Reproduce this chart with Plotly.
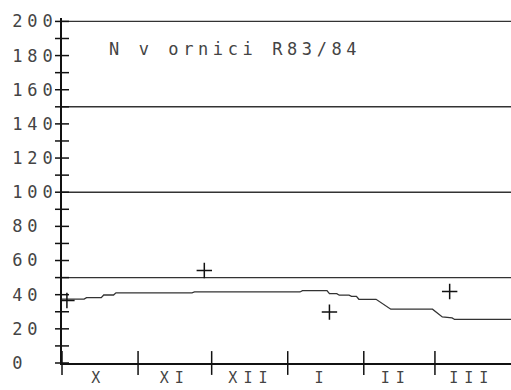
import plotly.graph_objects as go

# ---- data ----
line_dates = ["1983-10-01", "1983-10-10", "1983-10-11", "1983-10-17", "1983-10-18",
              "1983-10-22", "1983-10-23", "1983-11-23", "1983-11-24", "1984-01-06",
              "1984-01-07", "1984-01-17", "1984-01-18", "1984-01-21", "1984-01-22",
              "1984-01-26", "1984-01-27", "1984-01-29", "1984-01-30", "1984-02-06",
              "1984-02-12", "1984-02-29", "1984-03-04", "1984-03-08", "1984-03-09",
              "1984-04-01"]
line_values = [37.4, 37.4, 38.3, 38.3, 39.8, 39.8, 41.1, 41.1, 41.6, 41.6,
               42.4, 42.4, 40.6, 40.6, 39.7, 39.7, 39.0, 39.0, 37.3, 37.3,
               31.5, 31.5, 27.0, 26.4, 25.5, 25.5]

meas_dates = ["1983-10-03", "1983-11-28", "1984-01-18", "1984-03-07"]
meas_values = [36.6, 54.2, 29.8, 41.9]

ref_levels = [50, 100, 150, 200]

month_starts = ["1983-10-01", "1983-11-01", "1983-12-01", "1984-01-01",
                "1984-02-01", "1984-03-01"]
month_label_pos = ["1983-10-16", "1983-11-16", "1983-12-17", "1984-01-15",
                   "1984-02-14", "1984-03-16"]
month_labels = ["X", "XI", "XII", "I", "II", "III"]

y_minor_ticks = list(range(0, 201, 10))
y_label_vals = list(range(0, 201, 20))

x_start = "1983-10-01"
x_end = "1984-04-01"
title_text = "N v ornici R83/84"

INK = "#333333"
AXIS = "#111"
FONT = "DejaVu Sans Mono"


def spaced(s, pad_to=None, ls=6):
    if pad_to is not None:
        s = s + "\u00a0" * (pad_to - len(s))
    return f'<span style="letter-spacing:{ls}px">{s}</span>'


fig = go.Figure()

# reference horizontal lines
for lv in ref_levels:
    fig.add_trace(go.Scatter(x=[x_start, x_end], y=[lv, lv], mode="lines",
                             line=dict(color=INK, width=1.4),
                             hoverinfo="skip", showlegend=False))

# data line
fig.add_trace(go.Scatter(x=line_dates, y=line_values, mode="lines",
                         line=dict(color=INK, width=1.3), showlegend=False))

# measured points
fig.add_trace(go.Scatter(x=meas_dates, y=meas_values, mode="markers",
                         marker=dict(symbol="cross-thin-open", size=11, color=AXIS,
                                     line=dict(color=AXIS, width=1.5)),
                         showlegend=False))

# y tick marks crossing the axis
fig.add_trace(go.Scatter(x=[x_start] * len(y_minor_ticks), y=y_minor_ticks,
                         mode="markers", cliponaxis=False,
                         marker=dict(symbol="line-ew-open", size=10, color=AXIS,
                                     line=dict(color=AXIS, width=1.5)),
                         hoverinfo="skip", showlegend=False))

# x tick marks crossing the axis at month boundaries
fig.add_trace(go.Scatter(x=month_starts, y=[0] * len(month_starts),
                         mode="markers", cliponaxis=False,
                         marker=dict(symbol="line-ns-open", size=17, color=AXIS,
                                     line=dict(color=AXIS, width=1.5)),
                         hoverinfo="skip", showlegend=False))

fig.add_annotation(x=(107 - 62) / 449, y=184, xref="paper", yref="y",
                   xanchor="left", yanchor="middle", showarrow=False,
                   text=spaced(title_text, ls=4.6),
                   font=dict(family=FONT, size=17, color="#444"))

fig.update_layout(
    width=511, height=390,
    margin=dict(l=62, r=0, t=18, b=27, autoexpand=False),
    paper_bgcolor="white", plot_bgcolor="white",
    showlegend=False,
    xaxis=dict(type="date", range=[x_start, x_end], showgrid=False,
               zeroline=False, showline=True, linecolor=AXIS, linewidth=1.5,
               automargin=False,
               tickmode="array", tickvals=month_label_pos,
               ticktext=[spaced(m) for m in month_labels],
               ticks="", ticklabelstandoff=0,
               tickfont=dict(family=FONT, size=15, color="#444")),
    yaxis=dict(range=[0, 202], showgrid=False, zeroline=False,
               showline=True, linecolor=AXIS, linewidth=1.5,
               automargin=False,
               tickmode="array", tickvals=y_label_vals,
               ticktext=[spaced(str(v), pad_to=3, ls=5) for v in y_label_vals],
               ticks="", ticklabelstandoff=-1,
               tickfont=dict(family=FONT, size=17, color="#444")),
)

fig.write_html("out.html", config={"displayModeBar": False},
               post_script="document.body.style.margin='0';"
                           "document.body.style.overflow='hidden';")
